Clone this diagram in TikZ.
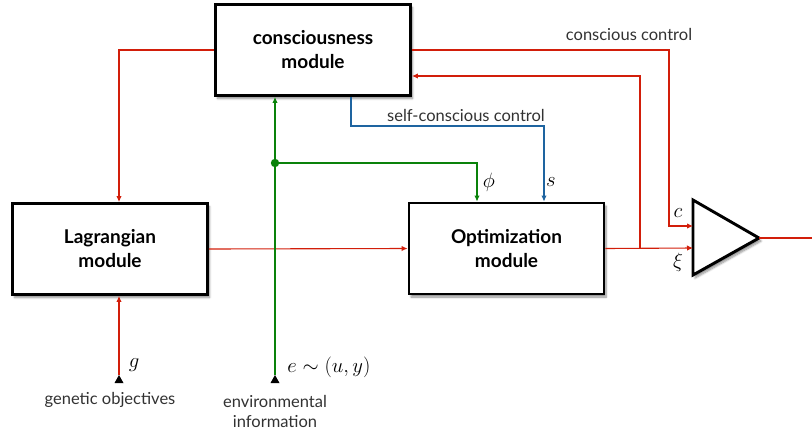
\documentclass[tikz,border=0pt]{standalone}
\usepackage{fontspec}
\setmainfont{Lato}
\usetikzlibrary{arrows.meta,shadows.blur,calc}
\definecolor{cred}{RGB}{210,30,10}
\definecolor{cgreen}{RGB}{10,130,10}
\definecolor{cblue}{RGB}{30,100,160}
\definecolor{ctext}{RGB}{50,50,50}
\begin{document}
\begin{tikzpicture}[x=1pt,y=-1pt,
  module/.style={draw=black,line width=2.9pt,fill=white,minimum width=195pt,minimum height=91pt,
    align=center,font=\fontsize{19}{24}\selectfont\bfseries,
    blur shadow={shadow xshift=2pt,shadow yshift=-3pt,shadow blur steps=8,shadow opacity=45}},
  conn/.style={line width=1.1pt},
  arr/.style={conn,-{Latex[length=6pt,width=5.5pt]}},
  redarr/.style={arr,draw=cred},
  greenarr/.style={arr,draw=cgreen},
  bluearr/.style={arr,draw=cblue},
  small/.style={font=\fontsize{16.5}{20}\selectfont,text=ctext,align=center,inner sep=0pt},
  mlabel/.style={font=\fontsize{20}{22}\selectfont,inner sep=0pt},
  marker/.style={fill=black}
]
\useasboundingbox (0,0) rectangle (812,429);

% modules
\node[module] (cons) at (313,50) {consciousness\\module};
\node[module] (lag) at (110,249) {Lagrangian\\module};
\node[module] (opt) at (506.5,248.5) {Optimization\\module};

% amplifier triangle
\coordinate (ampA) at (693,200);
\coordinate (ampout) at (759,238);
\coordinate (ampB) at (693,275);
\coordinate (ampc) at (693,226);
\coordinate (ampx) at (693,248);
\draw[line width=2.9pt,fill=white,line join=miter,
  blur shadow={shadow xshift=2pt,shadow yshift=-3pt,shadow blur steps=8,shadow opacity=45}]
  (ampA) -- (ampout) -- (ampB) -- cycle;

% input markers
\coordinate (gin) at (119,375);
\coordinate (ein) at (275,375);
\fill[marker] (gin) -- ++(4.5,8) -- ++(-9,0) -- cycle;
\fill[marker] (ein) -- ++(4.5,8) -- ++(-9,0) -- cycle;

% red connectors
\draw[redarr] (cons.west) -| ([xshift=9pt]lag.north);
\draw[redarr] (cons.east) -- ++(257,0) |- (ampc);
\draw[redarr] (lag.east) -- (opt.west);
\draw[redarr] (opt.east) -- (ampx);
\coordinate (br) at (640,248);
\draw[redarr] (br) |- ([yshift=-26pt]cons.east);
\draw[redarr] (gin) -- ([xshift=9pt]lag.south);
\coordinate (outend) at (812,238);
\draw[conn,draw=cred] (ampout) -- (outend);

% green connectors
\draw[greenarr] (ein) -- (ein |- cons.south);
\coordinate (dot) at (275,163);
\draw[greenarr] (dot) -| ([xshift=-29.5pt]opt.north);
\fill[cgreen] (dot) circle (4.2pt);

% blue connector
\draw[bluearr] ([xshift=38pt]cons.south) -- ++(0,29) -| ([xshift=37.5pt]opt.north);

% labels
\node[small] (lcc) at (629,34) {conscious control};
\node[small] (lscc) at (466,115) {self-conscious control};
\node[mlabel] (lphi) at (489,182) {$\phi$};
\node[mlabel] (ls) at (551,182) {$s$};
\node[mlabel] (lc) at (678,213) {$c$};
\node[mlabel] (lxi) at (678,262) {$\xi$};
\node[mlabel] (lg) at (134,365) {$g$};
\node[mlabel] (le) at (329,367) {$e\sim(u,y)$};
\node[small] (lgen) at (110,400) {genetic objectives};
\node[small,font=\fontsize{16.5}{20}\selectfont] (lenv) at (275,411) {environmental\\information};
\end{tikzpicture}
\end{document}
